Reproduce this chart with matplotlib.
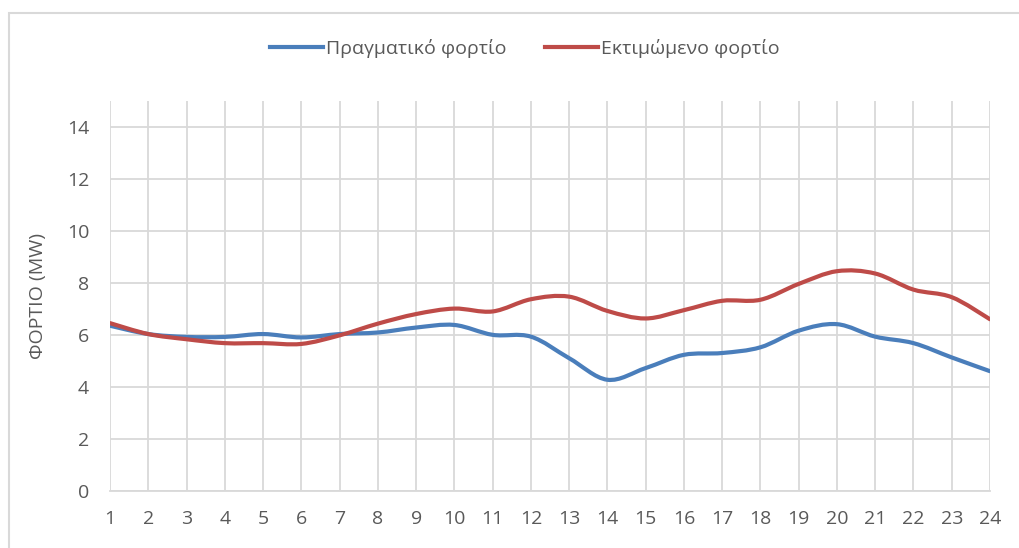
import numpy as np
import matplotlib
matplotlib.use("Agg")
import matplotlib.pyplot as plt
from matplotlib.path import Path
from matplotlib.patches import PathPatch, Rectangle
from matplotlib.lines import Line2D

plt.rcParams['font.family'] = ['Open Sans', 'DejaVu Sans']

hours = list(range(1, 25))
actual_load = [6.35, 6.03, 5.92, 5.92, 6.03, 5.90, 6.03, 6.09, 6.28, 6.38, 6.00, 5.93,
               5.10, 4.27, 4.72, 5.23, 5.30, 5.52, 6.16, 6.41, 5.93, 5.68, 5.13, 4.60]
estimated_load = [6.45, 6.03, 5.83, 5.68, 5.68, 5.65, 5.98, 6.43, 6.80, 7.01, 6.90, 7.37,
                  7.47, 6.92, 6.63, 6.95, 7.31, 7.35, 7.96, 8.45, 8.36, 7.74, 7.45, 6.60]

y_ticks = [0, 2, 4, 6, 8, 10, 12, 14]

BLUE = "#4A7EBB"
RED = "#BE4B48"
GRID = "#D9D9D9"
TEXT = "#595959"


def smooth_path(xs, ys, k=1 / 6):
    # Excel-style smoothed line: cubic bezier through every point
    xs = np.asarray(xs, float)
    ys = np.asarray(ys, float)
    n = len(xs)
    verts = [(xs[0], ys[0])]
    codes = [Path.MOVETO]
    for i in range(n - 1):
        i0 = max(i - 1, 0)
        i3 = min(i + 2, n - 1)
        c1 = (xs[i] + (xs[i + 1] - xs[i0]) * k, ys[i] + (ys[i + 1] - ys[i0]) * k)
        c2 = (xs[i + 1] - (xs[i3] - xs[i]) * k, ys[i + 1] - (ys[i3] - ys[i]) * k)
        verts += [c1, c2, (xs[i + 1], ys[i + 1])]
        codes += [Path.CURVE4] * 3
    return Path(verts, codes)


fig = plt.figure(figsize=(10.19, 5.48), dpi=100)
ax = fig.add_axes([0.108, 0.1046, 0.8635, 0.711])

for ys, col in [(actual_load, BLUE), (estimated_load, RED)]:
    ax.add_patch(PathPatch(smooth_path(hours, ys), facecolor="none", edgecolor=col,
                           linewidth=3, capstyle="round", joinstyle="round", zorder=3))

ax.set_xlim(1, 24)
ax.set_ylim(0, 15)
ax.set_xticks(hours)
ax.set_yticks(y_ticks)
ax.grid(True, color=GRID, linewidth=1.3)
ax.set_axisbelow(True)
for side in ["top", "right", "left"]:
    ax.spines[side].set_visible(False)
ax.spines["bottom"].set_color(GRID)
ax.spines["bottom"].set_linewidth(1.3)
ax.tick_params(axis="both", length=0, labelsize=14, colors=TEXT)
ax.tick_params(axis="x", pad=14)
ax.tick_params(axis="y", pad=15)
ax.set_ylabel("ΦΟΡΤΙΟ (MW)", fontsize=14, color=TEXT, labelpad=14)

handles = [Line2D([], [], color=BLUE, linewidth=3),
           Line2D([], [], color=RED, linewidth=3)]
fig.legend(handles, ["Πραγματικό φορτίο", "Εκτιμώμενο φορτίο"], loc="center",
           bbox_to_anchor=(0.515, 0.912), ncol=2, frameon=False, fontsize=14,
           handlelength=2.7, handletextpad=0.15, columnspacing=2.0, labelcolor=TEXT)

fig.patches.append(Rectangle((0.0088, -0.05), 1.1, 0.976 + 0.05, transform=fig.transFigure,
                             facecolor="none", edgecolor=GRID, linewidth=1.5, zorder=0))

fig.savefig("out.png", dpi=100)
